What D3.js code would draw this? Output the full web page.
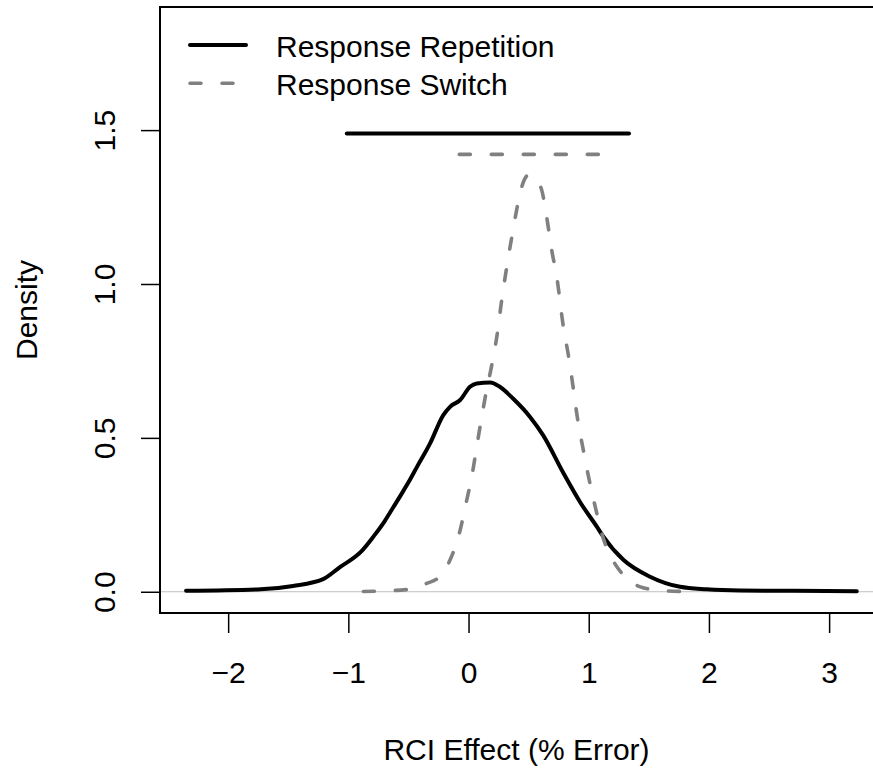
<!DOCTYPE html>
<html>
<head>
<meta charset="utf-8">
<script src="https://cdn.jsdelivr.net/npm/d3@7"></script>
<style>
  html, body { margin: 0; padding: 0; background: #fff; }
  svg { display: block; }
  text { font-family: "Liberation Sans", Arial, Helvetica, sans-serif; fill: #000; }
</style>
</head>
<body>
<svg id="chart" width="873" height="769"></svg>
<script>
// ---- Data ----
const seriesNames = ["Response Repetition", "Response Switch"];

// Response Repetition density (x = RCI effect, y = density)
const repX = [-2.35, -1.73, -1.46, -1.21, -1.07, -0.89, -0.79, -0.70, -0.63, -0.57, -0.49, -0.43, -0.32, -0.21, -0.154, -0.07, 0.012, 0.068, 0.18, 0.26, 0.37, 0.51, 0.62, 0.79, 0.93, 1.07, 1.12, 1.29, 1.51, 1.76, 1.98, 2.26, 2.7, 3.23];
const repY = [0.003, 0.008, 0.019, 0.041, 0.080, 0.132, 0.180, 0.228, 0.272, 0.310, 0.362, 0.405, 0.482, 0.574, 0.601, 0.623, 0.666, 0.677, 0.680, 0.666, 0.628, 0.569, 0.509, 0.385, 0.290, 0.210, 0.180, 0.103, 0.049, 0.016, 0.008, 0.004, 0.003, 0.002];

// Response Switch density
const swiX = [-0.875, -0.49, -0.35, -0.24, -0.154, -0.07, -0.015, 0.027, 0.068, 0.11, 0.15, 0.19, 0.235, 0.276, 0.318, 0.36, 0.40, 0.443, 0.498, 0.553, 0.609, 0.65, 0.692, 0.734, 0.789, 0.83, 0.872, 0.90, 0.955, 1.01, 1.067, 1.12, 1.20, 1.29, 1.43, 1.60, 1.77];
const swiY = [0.001, 0.008, 0.027, 0.049, 0.103, 0.200, 0.298, 0.374, 0.471, 0.569, 0.655, 0.730, 0.828, 0.948, 1.056, 1.153, 1.240, 1.316, 1.354, 1.343, 1.305, 1.218, 1.110, 1.023, 0.861, 0.770, 0.660, 0.580, 0.460, 0.352, 0.255, 0.175, 0.103, 0.054, 0.016, 0.004, 0.001];

// Interval bars above the densities: [x start, x end, y]
const repInterval = [-1.013, 1.335, 1.489];
const swiInterval = [-0.077, 1.117, 1.421];

// Ticks
const xTicks = [-2, -1, 0, 1, 2, 3];
const yTicks = [0.0, 0.5, 1.0, 1.5];
const yTickLabels = ["0.0", "0.5", "1.0", "1.5"];

const xLabel = "RCI Effect (% Error)";
const yLabel = "Density";

// ---- Layout ----
const svg = d3.select("#chart");
const padL = 160, padR = 873, padT = 7, padB = 613;

const x = d3.scaleLinear().domain([-2.567, 3.365]).range([padL, padR]);
const y = d3.scaleLinear().domain([-0.069, 1.9]).range([padB, padT]);

const black = "#000000", gray = "#808080";

// zero reference line
svg.append("line")
  .attr("x1", padL).attr("x2", padR)
  .attr("y1", y(0)).attr("y2", y(0))
  .attr("stroke", "#BEBEBE").attr("stroke-width", 1);

// density lines
const line = d3.line().x(d => x(d[0])).y(d => y(d[1])).curve(d3.curveMonotoneX);
const repData = repX.map((v, i) => [v, repY[i]]);
const swiData = swiX.map((v, i) => [v, swiY[i]]);

svg.append("path").datum(repData)
  .attr("d", line).attr("fill", "none")
  .attr("stroke", black).attr("stroke-width", 4)
  .attr("stroke-linecap", "round").attr("stroke-linejoin", "round");

svg.append("path").datum(swiData)
  .attr("d", line).attr("fill", "none")
  .attr("stroke", gray).attr("stroke-width", 3.6)
  .attr("stroke-dasharray", "11,21")
  .attr("stroke-linecap", "round").attr("stroke-linejoin", "round");

// interval lines
svg.append("line")
  .attr("x1", x(repInterval[0])).attr("x2", x(repInterval[1]))
  .attr("y1", y(repInterval[2])).attr("y2", y(repInterval[2]))
  .attr("stroke", black).attr("stroke-width", 4).attr("stroke-linecap", "round");

svg.append("line")
  .attr("x1", x(swiInterval[0])).attr("x2", x(swiInterval[1]))
  .attr("y1", y(swiInterval[2])).attr("y2", y(swiInterval[2]))
  .attr("stroke", gray).attr("stroke-width", 3.6)
  .attr("stroke-dasharray", "11,21").attr("stroke-linecap", "round");

// plot box (right side falls at the image edge)
svg.append("rect")
  .attr("x", padL).attr("y", padT)
  .attr("width", padR - padL + 2).attr("height", padB - padT)
  .attr("fill", "none").attr("stroke", black).attr("stroke-width", 2);

// x axis
const xAxis = svg.append("g")
  .attr("transform", `translate(0,${padB})`)
  .call(d3.axisBottom(x).tickValues(xTicks).tickSize(20).tickFormat(d3.format("d")));
xAxis.select(".domain").remove();
xAxis.selectAll(".tick line").attr("stroke", black).attr("stroke-width", 1.5);
xAxis.selectAll(".tick text")
  .attr("y", 70).attr("dy", null)
  .style("font-size", "30px")
  .style("font-family", '"Liberation Sans", Arial, sans-serif')
  .attr("fill", black);

// y axis
const yAxis = svg.append("g")
  .attr("transform", `translate(${padL},0)`)
  .call(d3.axisLeft(y).tickValues(yTicks).tickSize(19).tickFormat((d, i) => yTickLabels[i]));
yAxis.select(".domain").remove();
yAxis.selectAll(".tick line").attr("stroke", black).attr("stroke-width", 1.5);
yAxis.selectAll(".tick text")
  .attr("x", null).attr("dy", null)
  .attr("transform", `translate(${115 - padL},0) rotate(-90)`)
  .attr("text-anchor", "middle")
  .style("font-size", "30px")
  .style("font-family", '"Liberation Sans", Arial, sans-serif')
  .attr("fill", black);

// axis titles
svg.append("text")
  .attr("x", (padL + padR) / 2).attr("y", 760)
  .attr("text-anchor", "middle")
  .style("font-size", "30px")
  .text(xLabel);

svg.append("text")
  .attr("transform", `translate(37,${(padT + padB) / 2}) rotate(-90)`)
  .attr("text-anchor", "middle")
  .style("font-size", "30px")
  .text(yLabel);

// legend
const legend = svg.append("g");
const legendStyles = [
  { color: black, dash: null, width: 4 },
  { color: gray, dash: "11,21", width: 3.6 }
];
const legendY = [45, 83.3];
seriesNames.forEach((name, i) => {
  legend.append("line")
    .attr("x1", 190).attr("x2", 246)
    .attr("y1", legendY[i]).attr("y2", legendY[i])
    .attr("stroke", legendStyles[i].color)
    .attr("stroke-width", legendStyles[i].width)
    .attr("stroke-linecap", "round")
    .attr("stroke-dasharray", legendStyles[i].dash);
  legend.append("text")
    .attr("x", 276).attr("y", legendY[i] + 11.5)
    .style("font-size", "30px")
    .text(name);
});
</script>
</body>
</html>
